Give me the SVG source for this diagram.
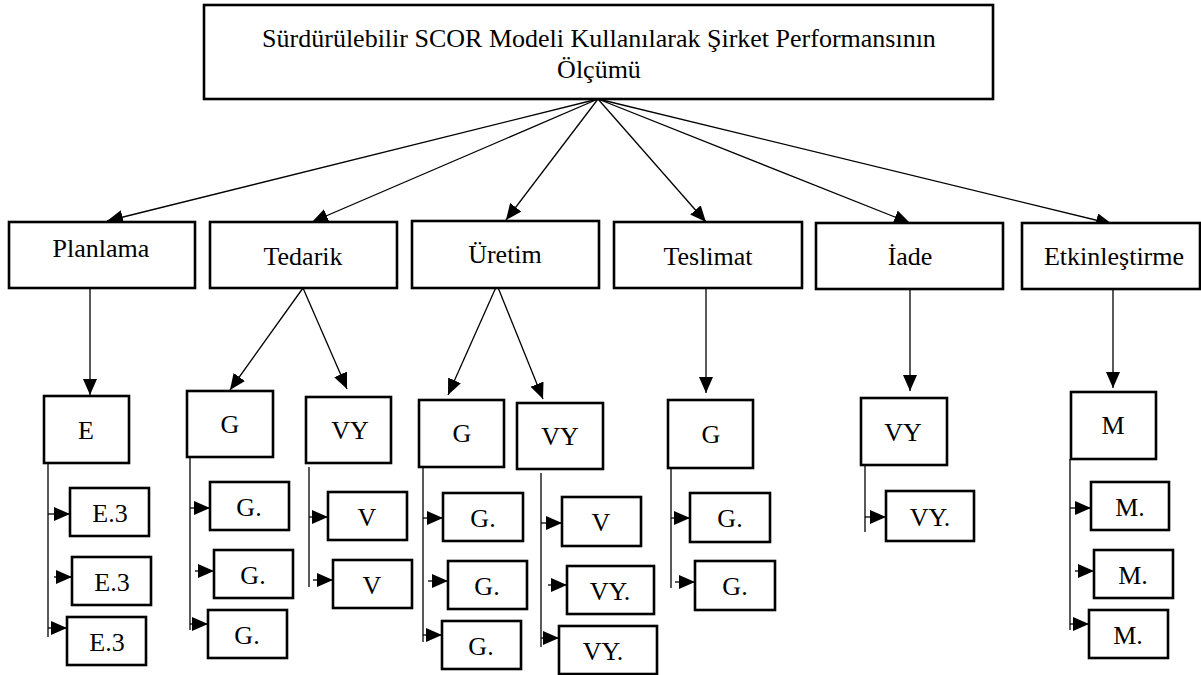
<svg xmlns="http://www.w3.org/2000/svg" width="1201" height="675" viewBox="0 0 1201 675">
<style>
.box{fill:#fff;stroke:#000;stroke-width:2.6}
.t{font-family:"Liberation Serif","Times New Roman",serif;font-size:26px;fill:#000;text-anchor:middle}
.c{stroke:#000;stroke-width:1.3;fill:none}
.a{marker-end:url(#ah)}
</style>
<defs>
<marker id="ah" markerUnits="userSpaceOnUse" markerWidth="16" markerHeight="14" refX="16" refY="7" orient="auto">
<path d="M0,0 L16,7 L0,14 z" fill="#000"/>
</marker>
</defs>
<rect width="1201" height="675" fill="#fff"/>
<g id="connectors">
<line class="c a" x1="598" y1="99" x2="107" y2="221"/>
<line class="c a" x1="598" y1="99" x2="312" y2="222"/>
<line class="c a" x1="598" y1="99" x2="506" y2="220"/>
<line class="c a" x1="598" y1="99" x2="706" y2="222"/>
<line class="c a" x1="598" y1="99" x2="910" y2="223"/>
<line class="c a" x1="598" y1="99" x2="1112" y2="224"/>
<line class="c a" x1="90" y1="288" x2="90" y2="395"/>
<line class="c a" x1="303" y1="288" x2="230" y2="390"/>
<line class="c a" x1="303" y1="288" x2="347" y2="389"/>
<line class="c a" x1="497" y1="285" x2="448" y2="395"/>
<line class="c a" x1="497" y1="285" x2="543" y2="399"/>
<line class="c a" x1="706" y1="288" x2="706" y2="393"/>
<line class="c a" x1="910" y1="289" x2="910" y2="391"/>
<line class="c a" x1="1113" y1="289" x2="1113" y2="388"/>
<line class="c" x1="48" y1="463" x2="48" y2="637"/>
<line class="c" x1="190" y1="457" x2="190" y2="630"/>
<line class="c" x1="309" y1="467" x2="309" y2="587"/>
<line class="c" x1="423" y1="467" x2="423" y2="642"/>
<line class="c" x1="541" y1="473" x2="541" y2="647"/>
<line class="c" x1="671" y1="468" x2="671" y2="588"/>
<line class="c" x1="865" y1="465" x2="865" y2="532"/>
<line class="c" x1="1070" y1="459" x2="1070" y2="630"/>
<line class="c a" x1="48" y1="514" x2="70" y2="514"/>
<line class="c a" x1="54" y1="577" x2="72" y2="577"/>
<line class="c a" x1="48" y1="628" x2="67" y2="628"/>
<line class="c a" x1="190" y1="508" x2="210" y2="508"/>
<line class="c a" x1="195" y1="571" x2="214" y2="571"/>
<line class="c a" x1="190" y1="624" x2="208" y2="624"/>
<line class="c a" x1="309" y1="517" x2="328" y2="517"/>
<line class="c a" x1="313" y1="580" x2="333" y2="580"/>
<line class="c a" x1="423" y1="518" x2="443" y2="518"/>
<line class="c a" x1="428" y1="581" x2="448" y2="581"/>
<line class="c a" x1="423" y1="635" x2="442" y2="635"/>
<line class="c a" x1="541" y1="523" x2="562" y2="523"/>
<line class="c a" x1="548" y1="585" x2="567" y2="585"/>
<line class="c a" x1="541" y1="638" x2="559" y2="638"/>
<line class="c a" x1="671" y1="518" x2="690" y2="518"/>
<line class="c a" x1="675" y1="582" x2="695" y2="582"/>
<line class="c a" x1="865" y1="517" x2="886" y2="517"/>
<line class="c a" x1="1070" y1="508" x2="1091" y2="508"/>
<line class="c a" x1="1075" y1="571" x2="1094" y2="571"/>
<line class="c a" x1="1070" y1="624" x2="1089" y2="624"/>
</g>
<g id="root"><rect class="box" x="204" y="5" width="789" height="94"/>
<text class="t" x="599" y="47">Sürdürülebilir SCOR Modeli Kullanılarak Şirket Performansının</text>
<text class="t" x="599" y="78">Ölçümü</text></g>
<g id="planlama"><rect class="box" x="9" y="222" width="186" height="66"/><text class="t" x="101" y="257">Planlama</text></g>
<g id="tedarik"><rect class="box" x="210" y="222" width="187" height="66"/><text class="t" x="303" y="265">Tedarik</text></g>
<g id="uretim"><rect class="box" x="412" y="221" width="187" height="67"/><text class="t" x="505" y="263">Üretim</text></g>
<g id="teslimat"><rect class="box" x="614" y="222" width="188" height="66"/><text class="t" x="708" y="265">Teslimat</text></g>
<g id="iade"><rect class="box" x="816" y="223" width="187" height="66"/><text class="t" x="910" y="265">İade</text></g>
<g id="etkinlestirme"><rect class="box" x="1022" y="223" width="178" height="66"/><text class="t" x="1114" y="265">Etkinleştirme</text></g>
<g id="E"><rect class="box" x="44" y="396" width="85" height="67"/><text class="t" x="86" y="439">E</text></g>
<g id="G-ted"><rect class="box" x="187" y="391" width="86" height="66"/><text class="t" x="230" y="433">G</text></g>
<g id="VY-ted"><rect class="box" x="306" y="397" width="85" height="66"/><text class="t" x="350" y="439">VY</text></g>
<g id="G-ure"><rect class="box" x="419" y="400" width="85" height="67"/><text class="t" x="462" y="442">G</text></g>
<g id="VY-ure"><rect class="box" x="517" y="403" width="86" height="66"/><text class="t" x="560" y="445">VY</text></g>
<g id="G-tes"><rect class="box" x="668" y="400" width="85" height="68"/><text class="t" x="711" y="443">G</text></g>
<g id="VY-iade"><rect class="box" x="861" y="398" width="86" height="67"/><text class="t" x="903" y="441">VY</text></g>
<g id="M"><rect class="box" x="1071" y="392" width="85" height="67"/><text class="t" x="1113" y="434">M</text></g>
<g id="E3-1"><rect class="box" x="70" y="488" width="79" height="48"/><text class="t" x="110" y="522">E.3</text></g>
<g id="E3-2"><rect class="box" x="72" y="557" width="79" height="48"/><text class="t" x="112" y="591">E.3</text></g>
<g id="E3-3"><rect class="box" x="67" y="617" width="79" height="48"/><text class="t" x="107" y="651">E.3</text></g>
<g id="Gt-1"><rect class="box" x="210" y="482" width="79" height="48"/><text class="t" x="249" y="516">G.</text></g>
<g id="Gt-2"><rect class="box" x="214" y="550" width="79" height="48"/><text class="t" x="253" y="584">G.</text></g>
<g id="Gt-3"><rect class="box" x="208" y="610" width="79" height="48"/><text class="t" x="247" y="644">G.</text></g>
<g id="Vt-1"><rect class="box" x="328" y="492" width="79" height="48"/><text class="t" x="367" y="526">V</text></g>
<g id="Vt-2"><rect class="box" x="333" y="560" width="79" height="48"/><text class="t" x="372" y="594">V</text></g>
<g id="Gu-1"><rect class="box" x="443" y="493" width="80" height="48"/><text class="t" x="483" y="527">G.</text></g>
<g id="Gu-2"><rect class="box" x="448" y="561" width="79" height="48"/><text class="t" x="487" y="595">G.</text></g>
<g id="Gu-3"><rect class="box" x="442" y="621" width="79" height="48"/><text class="t" x="481" y="655">G.</text></g>
<g id="Vu-1"><rect class="box" x="562" y="497" width="79" height="49"/><text class="t" x="601" y="531">V</text></g>
<g id="VYu-2"><rect class="box" x="567" y="566" width="87" height="48"/><text class="t" x="610" y="600">VY.</text></g>
<g id="VYu-3"><rect class="box" x="559" y="626" width="98" height="48"/><text class="t" x="603" y="660">VY.</text></g>
<g id="Gs-1"><rect class="box" x="690" y="493" width="80" height="49"/><text class="t" x="730" y="527">G.</text></g>
<g id="Gs-2"><rect class="box" x="695" y="561" width="80" height="49"/><text class="t" x="735" y="595">G.</text></g>
<g id="VYi-1"><rect class="box" x="886" y="491" width="88" height="50"/><text class="t" x="930" y="526">VY.</text></g>
<g id="M-1"><rect class="box" x="1091" y="482" width="78" height="48"/><text class="t" x="1130" y="516">M.</text></g>
<g id="M-2"><rect class="box" x="1094" y="550" width="79" height="48"/><text class="t" x="1133" y="584">M.</text></g>
<g id="M-3"><rect class="box" x="1089" y="610" width="79" height="48"/><text class="t" x="1128" y="644">M.</text></g>
</svg>
